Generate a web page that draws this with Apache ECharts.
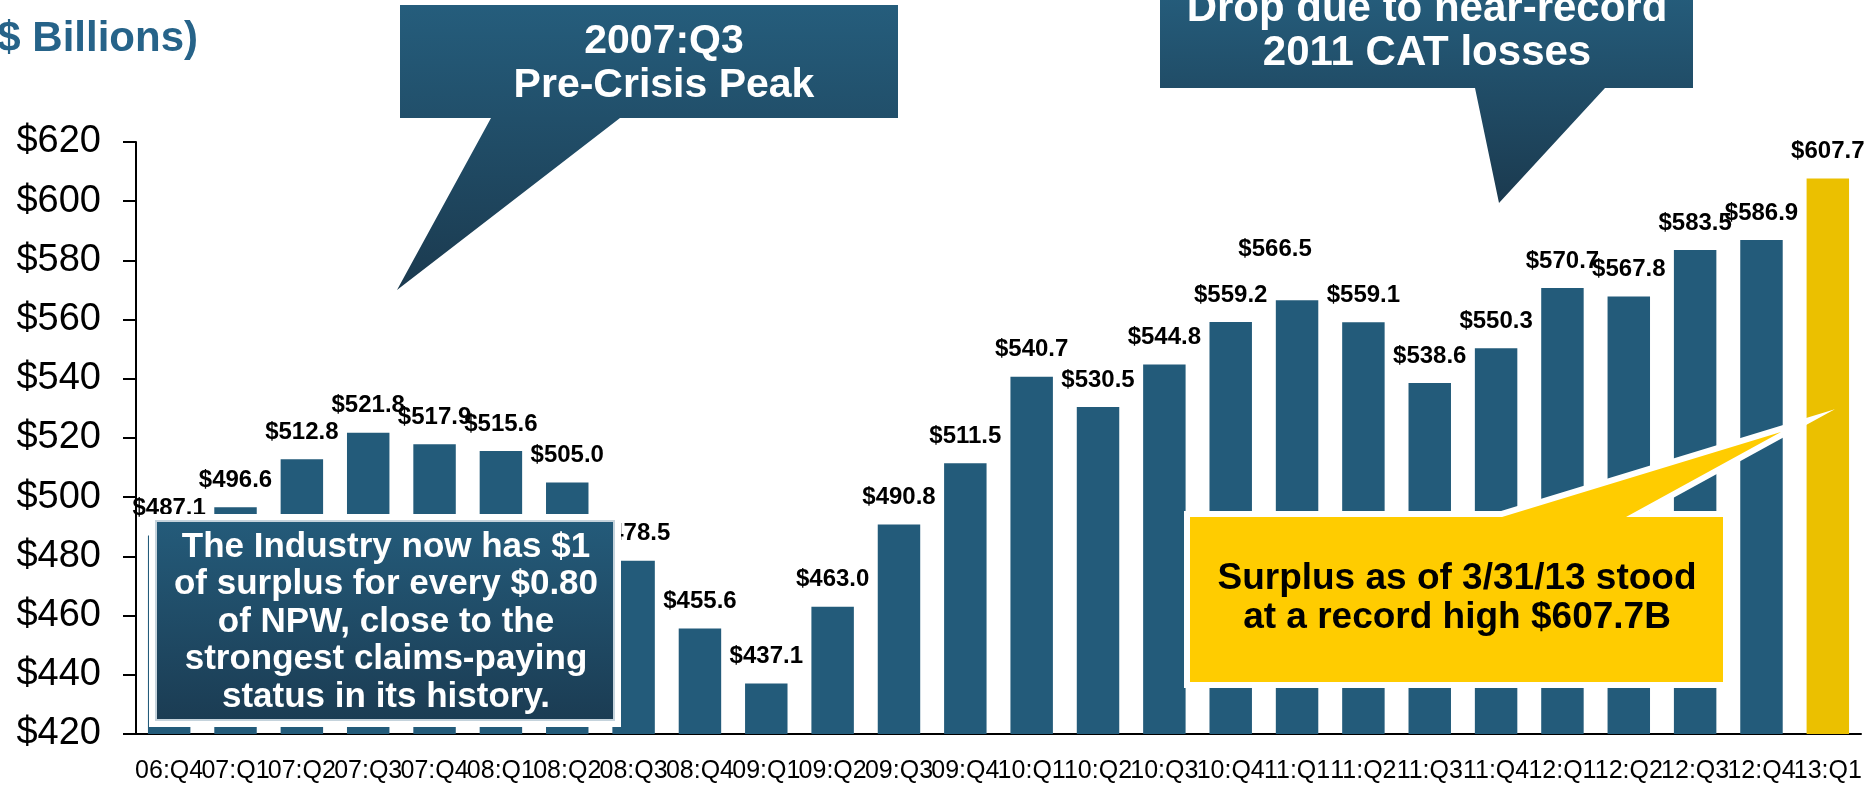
<!DOCTYPE html>
<html>
<head>
<meta charset="utf-8">
<script src="https://cdn.jsdelivr.net/npm/echarts@6/dist/echarts.min.js"></script>
<style>
  html, body { margin: 0; padding: 0; background: #fff; }
  #chart { width: 1865px; height: 786px; }
</style>
</head>
<body>
<div id="chart"></div>
<script>
const quarters = ['06:Q4', '07:Q1', '07:Q2', '07:Q3', '07:Q4', '08:Q1', '08:Q2', '08:Q3', '08:Q4',
  '09:Q1', '09:Q2', '09:Q3', '09:Q4', '10:Q1', '10:Q2', '10:Q3', '10:Q4',
  '11:Q1', '11:Q2', '11:Q3', '11:Q4', '12:Q1', '12:Q2', '12:Q3', '12:Q4', '13:Q1']
const surplus = [487.1, 496.6, 512.8, 521.8, 517.9, 515.6, 505.0, 478.5, 455.6,
  437.1, 463.0, 490.8, 511.5, 540.7, 530.5, 544.8, 559.2,
  566.5, 559.1, 538.6, 550.3, 570.7, 567.8, 583.5, 586.9, 607.7]
const yTicks = {min: 420, max: 620, step: 20}

const FONT = '"Liberation Sans", Arial, sans-serif'
const BLUE = '#235b7a'
const GOLD = '#ebc000'
// label of 11:Q2 sits higher and to the left in the original
const labelShift = {17: [-22, -24]}

const barData = surplus.map((v, i) => {
  const item = {value: v}
  if (i === surplus.length - 1) item.itemStyle = {color: GOLD}
  if (labelShift[i]) item.label = {offset: labelShift[i]}
  return item
})

const blueFill = () => new echarts.graphic.LinearGradient(0, 0, 0, 1, [
  {offset: 0, color: '#255d7c'},
  {offset: 1, color: '#1b3a4f'}
])

const chart = echarts.init(document.getElementById('chart'))

chart.setOption({
  animation: false,
  grid: {left: 136, right: 4, top: 142, bottom: 52, containLabel: false, outerBoundsMode: 'none'},
  xAxis: {
    type: 'category',
    data: quarters,
    axisLine: {lineStyle: {color: '#000', width: 2}},
    axisTick: {length: 7, lineStyle: {color: '#000', width: 2}},
    axisLabel: {interval: 0, margin: 25, color: '#000', fontSize: 25, fontFamily: FONT}
  },
  yAxis: {
    type: 'value',
    min: yTicks.min,
    max: yTicks.max,
    interval: yTicks.step,
    axisLine: {show: true, lineStyle: {color: '#000', width: 2}},
    axisTick: {show: true, length: 13, lineStyle: {color: '#000', width: 2}},
    splitLine: {show: false},
    axisLabel: {margin: 35, color: '#000', fontSize: 38, fontFamily: FONT, formatter: '${value}'}
  },
  series: [{
    type: 'bar',
    data: barData,
    barCategoryGap: '36%',
    itemStyle: {color: BLUE},
    label: {
      show: true,
      position: 'top',
      distance: 15,
      color: '#000',
      fontSize: 24,
      fontWeight: 'bold',
      fontFamily: FONT,
      formatter: p => '$' + p.value.toFixed(1)
    }
  }],
  graphic: [
    {
      type: 'text', x: 198, y: 39, z: 100,
      style: {text: '($ Billions)', fill: '#266389', fontSize: 42, fontWeight: 'bold',
        fontFamily: FONT, align: 'right', verticalAlign: 'middle'}
    },
    // 2007:Q3 callout
    {
      type: 'polygon', z: 101,
      shape: {points: [[400, 5], [898, 5], [898, 118], [620, 118], [397, 290], [491, 118], [400, 118]]},
      style: {fill: blueFill()}
    },
    {
      type: 'text', x: 664, y: 64, z: 102,
      style: {text: '2007:Q3\nPre-Crisis Peak', fill: '#fff', fontSize: 41, fontWeight: 'bold',
        fontFamily: FONT, align: 'center', verticalAlign: 'middle', lineHeight: 44}
    },
    // CAT losses callout
    {
      type: 'polygon', z: 101,
      shape: {points: [[1160, -10], [1693, -10], [1693, 88], [1605, 88], [1499, 203], [1475, 88], [1160, 88]]},
      style: {fill: blueFill()}
    },
    {
      type: 'text', x: 1427, y: 31, z: 102,
      style: {text: 'Drop due to near-record\n2011 CAT losses', fill: '#fff', fontSize: 42, fontWeight: 'bold',
        fontFamily: FONT, align: 'center', verticalAlign: 'middle', lineHeight: 44}
    },
    // industry text box
    {
      type: 'rect', z: 100,
      shape: {x: 149, y: 514, width: 472, height: 213},
      style: {fill: '#fff'}
    },
    {
      type: 'rect', z: 101,
      shape: {x: 156, y: 521, width: 458, height: 199},
      style: {fill: new echarts.graphic.LinearGradient(0, 0, 0, 1, [
        {offset: 0, color: '#245b7a'}, {offset: 1, color: '#1b3c53'}
      ]), stroke: '#c5d3dc', lineWidth: 2}
    },
    {
      type: 'text', x: 386, y: 622, z: 102,
      style: {text: 'The Industry now has $1\nof surplus for every $0.80\nof NPW, close to the\nstrongest claims-paying\nstatus in its history.',
        fill: '#fff', fontSize: 35, fontWeight: 'bold', fontFamily: FONT,
        align: 'center', verticalAlign: 'middle', lineHeight: 37.5}
    },
    // record surplus callout
    {
      type: 'polygon', z: 100,
      shape: {points: [[1190, 517], [1502, 517], [1781, 432], [1626, 517], [1723, 517], [1723, 682], [1190, 682]]},
      style: {fill: '#fff', stroke: '#fff', lineWidth: 12, lineJoin: 'miter', miterLimit: 10}
    },
    {
      type: 'polygon', z: 101,
      shape: {points: [[1190, 517], [1502, 517], [1781, 432], [1626, 517], [1723, 517], [1723, 682], [1190, 682]]},
      style: {fill: '#ffcc00'}
    },
    {
      type: 'text', x: 1457, y: 598, z: 102,
      style: {text: 'Surplus as of 3/31/13 stood\nat a record high $607.7B', fill: '#000', fontSize: 37,
        fontWeight: 'bold', fontFamily: FONT, align: 'center', verticalAlign: 'middle', lineHeight: 39}
    }
  ]
})
</script>
</body>
</html>
